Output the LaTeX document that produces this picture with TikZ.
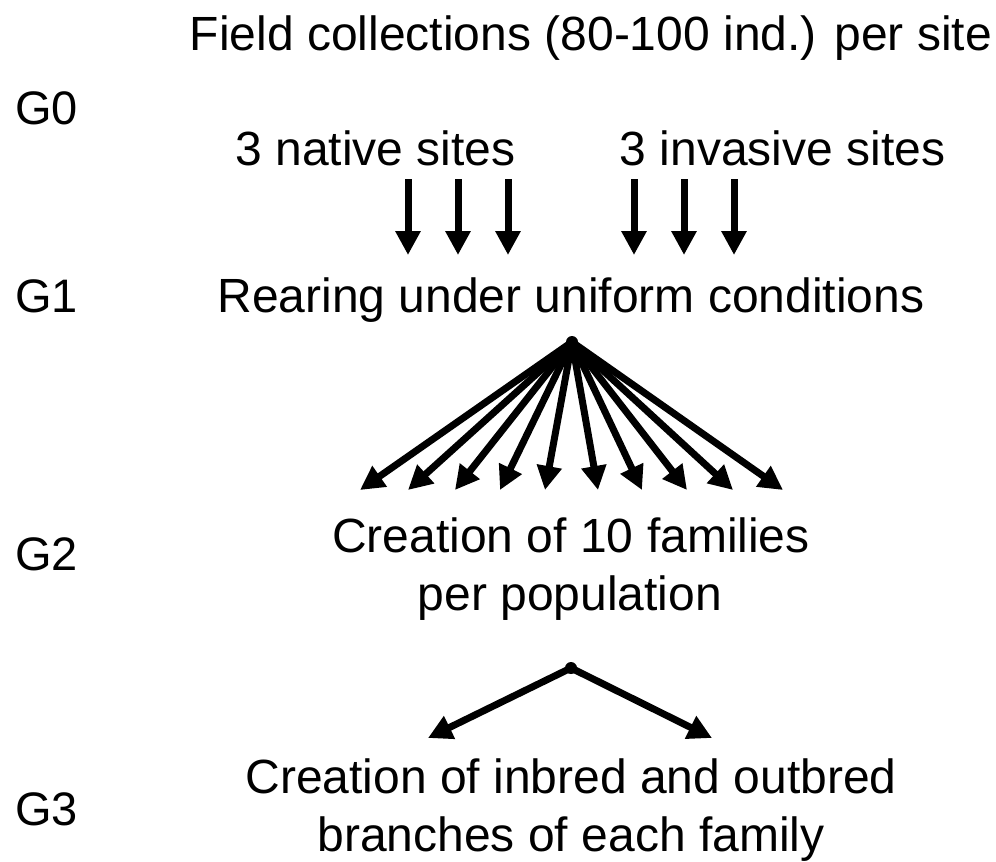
\documentclass[tikz,border=0pt]{standalone}
\usepackage{fontspec}
\setmainfont{Liberation Sans}
\usetikzlibrary{arrows.meta}
\begin{document}
\begin{tikzpicture}[x=1pt,y=-1pt,
  txt/.style={inner sep=0pt,anchor=base,font=\fontsize{48}{58}\selectfont},
  glab/.style={inner sep=0pt,anchor=base west,font=\fontsize{47}{56}\selectfont},
  arr/.style={line width=7pt,-{Triangle[width=24pt,length=24pt]}},
  dotst/.style={circle,fill=black,inner sep=0pt,minimum size=12pt}]
\useasboundingbox (0,0) rectangle (996,862);
% generation labels
\node[glab] (g0) at (15,124) {G0};
\node[glab] (g1) at (15,312) {G1};
\node[glab] (g2) at (15,570) {G2};
\node[glab] (g3) at (15,825) {G3};
% texts
\node[txt] (field) at (591,50) {Field collections (80-100 ind.) per site};
\node[txt] (native) at (375.5,165) {3 native sites};
\node[txt] (invasive) at (782.5,165) {3 invasive sites};
\node[txt] (rear) at (571,312) {Rearing under uniform conditions};
\node[txt] (fam1) at (571,552) {Creation of 10 families};
\node[txt] (fam2) at (570,610) {per population};
\node[txt] (br1) at (571,793) {Creation of inbred and outbred};
\node[txt] (br2) at (571,851) {branches of each family};
% vertical arrows
\foreach \i/\x in {1/408,2/458,3/508,4/634,5/684,6/734}{
  \coordinate (vs\i) at (\x,179);
  \coordinate (ve\i) at (\x,255);
  \draw[arr] (vs\i) -- (ve\i);
}
% fan
\node[dotst] (fan) at (572,342) {};
\foreach \i/\x in {1/360,2/408,3/455,4/500,5/545,6/598,7/642,8/687,9/733,10/783}{
  \coordinate (ft\i) at (\x,490);
  \draw[arr] (fan.center) -- (ft\i);
}
% V split
\node[dotst] (split) at (571,668) {};
\coordinate (vl) at (428,738);
\coordinate (vr) at (712,738);
\draw[arr] (split.center) -- (vl);
\draw[arr] (split.center) -- (vr);
\end{tikzpicture}
\end{document}
